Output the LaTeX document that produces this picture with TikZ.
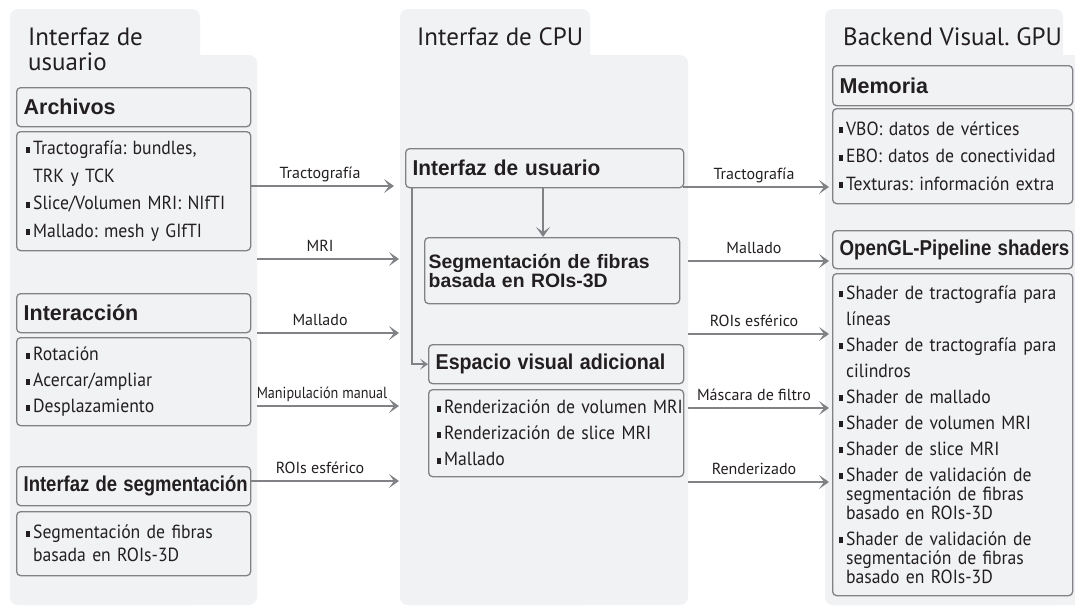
\documentclass[tikz,border=0pt]{standalone}
\usepackage{fontspec}
\setmainfont{PT Sans}
\newfontfamily\itemfont{PT Sans}[FakeStretch=0.93]
\newfontfamily\hfont{Liberation Sans}
\usetikzlibrary{arrows.meta}
\definecolor{panel}{HTML}{F1F2F4}
\definecolor{edge}{HTML}{808285}
\definecolor{ink}{HTML}{231F20}
\newcommand\bul{\rule[0.1em]{4pt}{6pt}\hspace{3.5pt}}
\newcommand\ind{\hspace*{7.5pt}}
\newcommand\tightsp{\spaceskip=3.6pt plus 1pt minus 0.5pt\xspaceskip=3.6pt plus 1pt minus 0.5pt}
\tikzset{
  panelfill/.style={fill=panel, rounded corners=8pt},
  hdr/.style={draw=edge, line width=1.3pt, rounded corners=4pt, anchor=north west, align=left,
    inner xsep=7pt, inner ysep=0pt, font=\hfont\bfseries\fontsize{21.5}{22}\selectfont, text=ink},
  bodybox/.style={draw=edge, line width=1.3pt, rounded corners=4pt, anchor=north west, align=left,
    inner xsep=8pt, inner ysep=0pt, font=\itemfont\fontsize{19}{26}\selectfont\tightsp, text=ink},
  conn/.style={draw=edge, line width=1.8pt, -{Stealth[length=10pt,width=14pt,inset=5pt]}},
  connthin/.style={draw=edge, line width=1.4pt, -{Stealth[length=8pt,width=11pt,inset=4pt]}},
  lbl/.style={font=\fontsize{16}{18}\selectfont, text=ink, anchor=base, yshift=7.5pt, inner sep=0pt},
  ttl/.style={font=\fontsize{25}{25}\selectfont, text=ink, anchor=base west, align=left, inner sep=0pt},
}
\begin{document}
\frenchspacing
\begin{tikzpicture}[x=1pt,y=-1pt]
\useasboundingbox (0,0) rectangle (1075,608);
% panels
\fill[panelfill] (10,9) rectangle (200,605);
\fill[panelfill] (10,55) rectangle (257,605);
\fill[panelfill] (400,9) rectangle (590,605);
\fill[panelfill] (400,55) rectangle (688,605);
\fill[panelfill] (825,9) rectangle (1063,605);
\fill[panelfill] (825,55) rectangle (1090,605);
% titles
\node[ttl] (t1) at (28,70) {Interfaz de\\usuario};
\node[ttl] (t2) at (417,45) {Interfaz de CPU};
\node[ttl] (t3) at (843,45) {Backend Visual. GPU};
% left column
\node[hdr, text width=220pt, minimum height=39pt] (archh) at (16,87) {Archivos};
\node[bodybox, inner xsep=9pt, text width=216pt, minimum height=119pt, font=\itemfont\fontsize{19}{27.5}\selectfont\tightsp] (archb) at (16,131)
  {\bul Tractografía: bundles,\\\ind TRK y TCK\\\bul Slice/Volumen MRI: NIfTI\\\bul Mallado: mesh y GIfTI};
\node[hdr, text width=220pt, minimum height=39pt] (interh) at (16,293) {Interacción};
\node[bodybox, inner xsep=9pt, text width=216pt, minimum height=88pt] (interb) at (16,337)
  {\bul Rotación\\\bul Acercar/ampliar\\\bul Desplazamiento};
\node[hdr, text width=220pt, minimum height=39pt] (segh) at (16,466) {\scalebox{0.86}[1]{Interfaz de segmentación}};
\node[bodybox, inner xsep=9pt, text width=216pt, minimum height=64pt, font=\itemfont\fontsize{19}{23}\selectfont\tightsp] (segb) at (16,511)
  {\bul Segmentación de fibras\\\ind basada en ROIs-3D};
% middle column
\node[hdr, text width=264pt, minimum height=39pt] (cpuui) at (405,148) {\scalebox{0.97}[1]{Interfaz de usuario}};
\node[hdr, text width=247pt, inner xsep=4pt, minimum height=66pt, font=\hfont\bfseries\fontsize{19.4}{17.5}\selectfont] (seg3d) at (424,237)
  {Segmentación de fibras\\basada en ROIs-3D};
\node[hdr, text width=241pt, minimum height=39pt] (espa) at (428,344) {\scalebox{0.915}[1]{Espacio visual adicional}};
\node[bodybox, text width=239pt, minimum height=87pt] (espb) at (428,389)
  {\mbox{\bul Renderización de volumen MRI}\\\bul Renderización de slice MRI\\\bul Mallado};
% right column
\node[hdr, text width=226pt, minimum height=40pt] (memh) at (832,65) {Memoria};
\node[bodybox, inner xsep=6pt, text width=228pt, minimum height=95pt, font=\itemfont\fontsize{19}{27.5}\selectfont\tightsp] (memb) at (832,108)
  {\bul VBO: datos de vértices\\\bul EBO: datos de conectividad\\\bul Texturas: información extra};
\node[hdr, text width=226pt, minimum height=38pt] (oglh) at (832,230) {\scalebox{0.87}[1]{OpenGL-Pipeline shaders}};
\node[bodybox, inner xsep=6pt, text width=228pt, minimum height=322pt] (oglb) at (832,273)
  {\bul Shader de tractografía para\\\ind líneas\\\bul Shader de tractografía para\\\ind cilindros\\
   \bul Shader de mallado\\\bul Shader de volumen MRI\\\bul Shader de slice MRI\\
   \bul Shader de validación de\\[-7pt]\ind segmentación de fibras\\[-7pt]\ind basado en ROIs-3D\\
   \bul Shader de validación de\\[-7pt]\ind segmentación de fibras\\[-7pt]\ind basado en ROIs-3D};
% connector coordinates
\coordinate (a1s) at (250,186); \coordinate (a1e) at (394,186);
\coordinate (a2s) at (257,259); \coordinate (a2e) at (399,259);
\coordinate (a3s) at (257,333); \coordinate (a3e) at (399,333);
\coordinate (a4s) at (257,406); \coordinate (a4e) at (399,406);
\coordinate (a5s) at (250,481); \coordinate (a5e) at (399,481);
\coordinate (b1s) at (683,187); \coordinate (b1e) at (829,187);
\coordinate (b2s) at (688,261); \coordinate (b2e) at (829,261);
\coordinate (b3s) at (688,334); \coordinate (b3e) at (829,334);
\coordinate (b4s) at (688,408); \coordinate (b4e) at (829,408);
\coordinate (b5s) at (688,482); \coordinate (b5e) at (829,482);
\draw[conn] (a1s) -- node[lbl, pos=0.486]{Tractografía} (a1e);
\draw[conn] (a2s) -- node[lbl, pos=0.444]{MRI} (a2e);
\draw[conn] (a3s) -- node[lbl, pos=0.444]{Mallado} (a3e);
\draw[conn] (a4s) -- node[lbl, pos=0.458]{\scalebox{0.885}[1]{Manipulación manual}} (a4e);
\draw[conn] (a5s) -- node[lbl, pos=0.47]{ROIs esférico} (a5e);
\draw[conn] (b1s) -- node[lbl, pos=0.486]{Tractografía} (b1e);
\draw[conn] (b2s) -- node[lbl, pos=0.468]{Mallado} (b2e);
\draw[conn] (b3s) -- node[lbl, pos=0.468]{ROIs esférico} (b3e);
\draw[conn] (b4s) -- node[lbl, pos=0.468]{Máscara de filtro} (b4e);
\draw[conn] (b5s) -- node[lbl, pos=0.468]{Renderizado} (b5e);
% internal CPU connectors
\draw[conn] (cpuui.south -| 543,0) -- (seg3d.north -| 543,0);
\draw[connthin] ([xshift=7pt]cpuui.south west) |- (espa.west);
\end{tikzpicture}
\end{document}
